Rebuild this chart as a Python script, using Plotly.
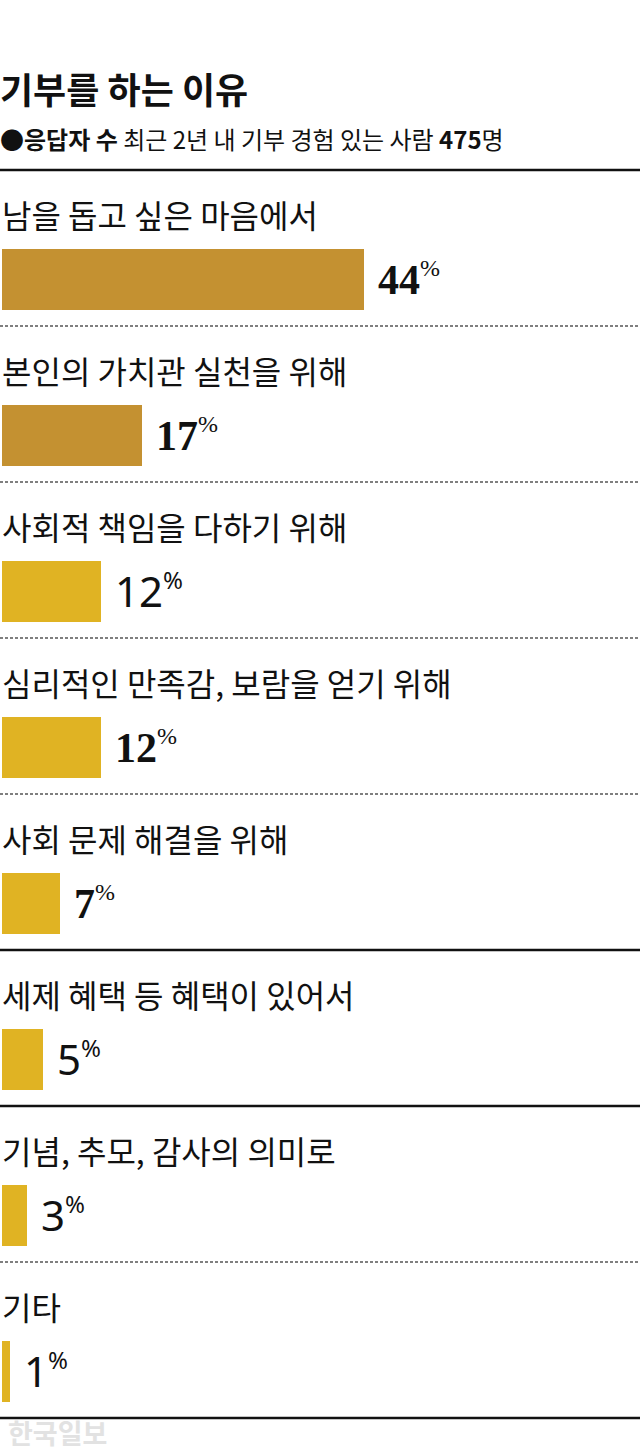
import plotly.graph_objects as go

# ---- data ----
categories = [
    "남을 돕고 싶은 마음에서",
    "본인의 가치관 실천을 위해",
    "사회적 책임을 다하기 위해",
    "심리적인 만족감, 보람을 얻기 위해",
    "사회 문제 해결을 위해",
    "세제 혜택 등 혜택이 있어서",
    "기념, 추모, 감사의 의미로",
    "기타",
]
values = [44, 17, 12, 12, 7, 5, 3, 1]
title_text = "기부를 하는 이유"
subtitle_text = "<b>●응답자 수</b> 최근 2년 내 기부 경험 있는 사람 <b>475</b>명"
source_text = "한국일보"

# ---- styles ----
bar_colors = ["#C49131", "#C49131", "#E0B323", "#E0B323", "#E0B323", "#E0B323", "#E0B323", "#E0B323"]
num_fonts = ["serif", "serif", "sans", "serif", "serif", "sans", "sans", "sans"]
sep_styles = ["dash", "dash", "dash", "dash", "solid", "solid", "dash", "solid"]

W, H = 640, 1455
n = len(categories)

fig = go.Figure()
fig.add_trace(go.Bar(
    x=values, y=categories, orientation="h",
    marker=dict(color=bar_colors, line=dict(width=0)),
    width=61 / 156, hoverinfo="skip", showlegend=False,
))

annotations = []
for i, (cat, v) in enumerate(zip(categories, values)):
    annotations.append(dict(
        x=0, xref="paper", y=cat, yref="y", yshift=65.5,
        text=cat, showarrow=False, xanchor="left", yanchor="middle", xshift=0,
        font=dict(family="Noto Sans CJK KR", size=32, color="#111111"),
    ))
    if num_fonts[i] == "serif":
        fam, sz = "Liberation Serif", 42
        txt = f"<b>{v}</b><sup><span style='font-size:24px'>%</span></sup>"
    else:
        fam, sz = "Noto Sans", 42
        txt = f"{v}<sup><span style='font-size:24px'>%</span></sup>"
    annotations.append(dict(
        x=v, xref="x", y=cat, yref="y", xshift=12, yshift=1,
        text=txt, showarrow=False, xanchor="left", yanchor="middle",
        font=dict(family=fam, size=sz, color="#111111"),
    ))

annotations.append(dict(
    x=0, xref="paper", y=1 - 88 / H, yref="paper", text=f"<b>{title_text}</b>",
    showarrow=False, xanchor="left", yanchor="middle", xshift=-2,
    font=dict(family="Noto Sans CJK KR", size=36, color="#111111"),
))
annotations.append(dict(
    x=0, xref="paper", y=1 - 138 / H, yref="paper", text=subtitle_text,
    showarrow=False, xanchor="left", yanchor="middle", xshift=-2,
    font=dict(family="Noto Sans CJK KR", size=24, color="#111111"),
))
annotations.append(dict(
    x=0, xref="paper", y=1 - 1432 / H, yref="paper", text=f"<b>{source_text}</b>",
    showarrow=False, xanchor="left", yanchor="middle", xshift=6,
    font=dict(family="Noto Sans CJK KR", size=27, color="#E2E2E2"),
))

shapes = []
off = 46.5 / 156
shapes.append(dict(type="line", xref="paper", x0=0, x1=1, yref="y", y0=-1 + off, y1=-1 + off,
                   line=dict(color="#111111", width=2.5)))
for i, st in enumerate(sep_styles):
    if st == "dash":
        line = dict(color="#555555", width=1.5, dash="3px,2px")
    else:
        line = dict(color="#111111", width=2.5)
    shapes.append(dict(type="line", xref="paper", x0=0, x1=1, yref="y", y0=i + off, y1=i + off, line=line))

px_per = 8.23
fig.update_layout(
    width=W, height=H, autosize=False,
    margin=dict(l=0, r=0, t=0, b=0),
    paper_bgcolor="white", plot_bgcolor="white",
    xaxis=dict(range=[-2 / px_per, (W - 2) / px_per], visible=False, fixedrange=True),
    yaxis=dict(type="category", categoryorder="array", categoryarray=categories,
               range=[(H - 279.5) / 156, -279.5 / 156], visible=False, fixedrange=True),
    annotations=annotations, shapes=shapes,
    bargap=0,
)

fig.write_html(
    "out.html",
    config={"displayModeBar": False},
    post_script="document.body.style.margin='0';document.body.style.padding='0';",
)
